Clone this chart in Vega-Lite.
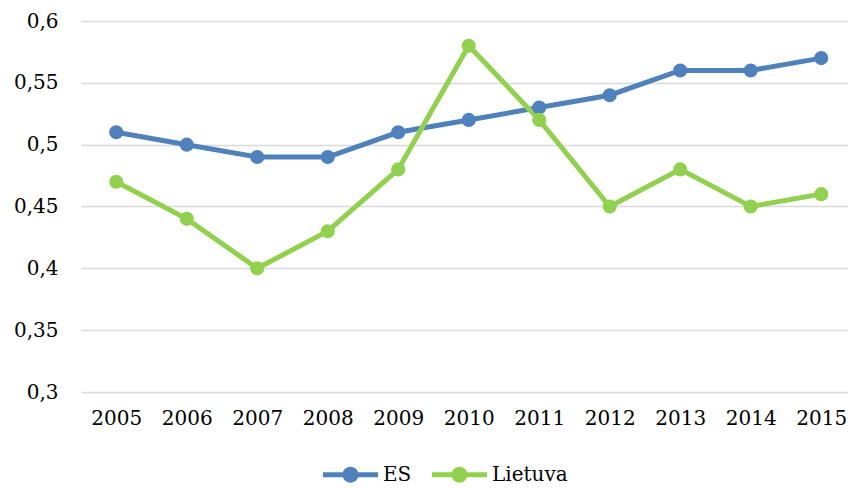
{
  "$schema": "https://vega.github.io/schema/vega-lite/v6.json",
  "width": 767,
  "height": 371,
  "autosize": {"type": "none"},
  "padding": {"left": 81, "top": 21, "right": 0, "bottom": 96},
  "background": "white",
  "config": {
    "view": {"stroke": null},
    "font": "DejaVu Serif",
    "axis": {"labelFont": "DejaVu Serif", "labelFontSize": 20, "labelColor": "#000000"},
    "legend": {"labelFont": "DejaVu Serif", "labelFontSize": 20, "labelColor": "#000000"}
  },
  "data": {
    "values": [
      {"year": 2005, "series": "ES", "value": 0.51},
      {"year": 2006, "series": "ES", "value": 0.50},
      {"year": 2007, "series": "ES", "value": 0.49},
      {"year": 2008, "series": "ES", "value": 0.49},
      {"year": 2009, "series": "ES", "value": 0.51},
      {"year": 2010, "series": "ES", "value": 0.52},
      {"year": 2011, "series": "ES", "value": 0.53},
      {"year": 2012, "series": "ES", "value": 0.54},
      {"year": 2013, "series": "ES", "value": 0.56},
      {"year": 2014, "series": "ES", "value": 0.56},
      {"year": 2015, "series": "ES", "value": 0.57},
      {"year": 2005, "series": "Lietuva", "value": 0.47},
      {"year": 2006, "series": "Lietuva", "value": 0.44},
      {"year": 2007, "series": "Lietuva", "value": 0.40},
      {"year": 2008, "series": "Lietuva", "value": 0.43},
      {"year": 2009, "series": "Lietuva", "value": 0.48},
      {"year": 2010, "series": "Lietuva", "value": 0.58},
      {"year": 2011, "series": "Lietuva", "value": 0.52},
      {"year": 2012, "series": "Lietuva", "value": 0.45},
      {"year": 2013, "series": "Lietuva", "value": 0.48},
      {"year": 2014, "series": "Lietuva", "value": 0.45},
      {"year": 2015, "series": "Lietuva", "value": 0.46}
    ]
  },
  "encoding": {
    "x": {
      "field": "year",
      "type": "quantitative",
      "scale": {"domain": [2004.5, 2015.38], "nice": false, "zero": false},
      "axis": {
        "title": null,
        "values": [2005, 2006, 2007, 2008, 2009, 2010, 2011, 2012, 2013, 2014, 2015],
        "format": "d",
        "grid": false,
        "domain": false,
        "ticks": false,
        "labelPadding": 16,
        "labelFlush": false,
        "labelOverlap": false
      }
    },
    "y": {
      "field": "value",
      "type": "quantitative",
      "scale": {"domain": [0.3, 0.6], "nice": false, "zero": false},
      "axis": {
        "title": null,
        "values": [0.3, 0.35, 0.4, 0.45, 0.5, 0.55, 0.6],
        "labelExpr": "replace(format(datum.value, '.2~f'), '.', ',')",
        "grid": true,
        "gridColor": "#d9d9d9",
        "gridWidth": 1.5,
        "domain": false,
        "ticks": false,
        "labelPadding": 23,
        "labelFlush": false,
        "labelBaseline": "middle"
      }
    },
    "color": {
      "field": "series",
      "type": "nominal",
      "scale": {"domain": ["ES", "Lietuva"], "range": ["#4f81bd", "#92d050"]}
    }
  },
  "layer": [
    {
      "mark": {"type": "line", "strokeWidth": 5},
      "encoding": {
        "color": {
          "field": "series",
          "type": "nominal",
          "scale": {"domain": ["ES", "Lietuva"], "range": ["#4f81bd", "#92d050"]},
          "legend": {
            "title": null,
            "orient": "none",
            "direction": "horizontal",
            "legendX": 242,
            "legendY": 426,
            "columns": 2,
            "columnPadding": 20,
            "labelOffset": 5,
            "symbolSize": 3025,
            "symbolStrokeWidth": 0,
            "symbolType": "M-1,-0.09 H-0.25 V0.09 H-1 Z M0.25,-0.09 H1 V0.09 H0.25 Z M0.29,0 A0.29,0.29 0 1 1 -0.29,0 A0.29,0.29 0 1 1 0.29,0 Z"
          }
        }
      }
    },
    {
      "mark": {"type": "point", "filled": true, "size": 200, "opacity": 1, "shape": "circle"},
      "encoding": {
        "color": {
          "field": "series",
          "type": "nominal",
          "scale": {"domain": ["ES", "Lietuva"], "range": ["#4f81bd", "#92d050"]},
          "legend": null
        }
      }
    }
  ]
}
